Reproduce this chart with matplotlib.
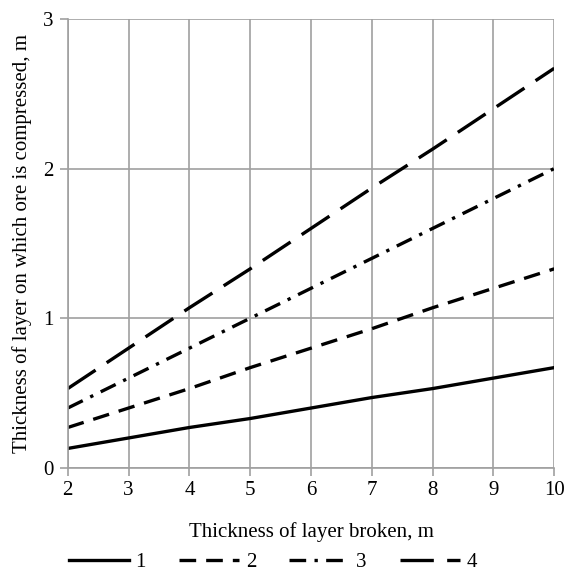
import matplotlib.pyplot as plt

plt.rcParams['font.family'] = ['Liberation Serif', 'DejaVu Serif']

# thickness of layer broken, m
x = [2, 3, 4, 5, 6, 7, 8, 9, 10]
# thickness of layer on which ore is compressed, m
line1 = [0.13, 0.20, 0.27, 0.33, 0.40, 0.47, 0.53, 0.60, 0.67]
line2 = [0.27, 0.40, 0.53, 0.67, 0.80, 0.93, 1.07, 1.20, 1.33]
line3 = [0.40, 0.60, 0.80, 1.00, 1.20, 1.40, 1.60, 1.80, 2.00]
line4 = [0.53, 0.80, 1.07, 1.33, 1.60, 1.87, 2.13, 2.40, 2.67]
labels = ['1', '2', '3', '4']

fig = plt.figure(figsize=(5.65, 5.72), dpi=100)
ax = fig.add_axes([0.120, 0.182, 0.861, 0.785])

lw = 2.4
ax.plot(x, line1, color='black', lw=lw, linestyle='-', label=labels[0])
ax.plot(x, line2, color='black', lw=lw, linestyle=(0, (5, 3)), label=labels[1])
ax.plot(x, line3, color='black', lw=lw, linestyle=(0, (5, 2.5, 1, 2.5)), label=labels[2])
ax.plot(x, line4, color='black', lw=lw, linestyle=(0, (10, 4)), label=labels[3])

ax.set_xlim(2, 10)
ax.set_ylim(0, 3)
ax.set_xticks(range(2, 11))
ax.set_yticks([0, 1, 2, 3])
ax.grid(True, color='#a0a0a0', lw=1.2)
ax.set_axisbelow(True)
for s in ['top', 'right']:
    ax.spines[s].set_visible(False)
for s in ['left', 'bottom']:
    ax.spines[s].set_color('#a0a0a0')
    ax.spines[s].set_linewidth(1.2)
ax.tick_params(axis='both', colors='#a0a0a0', labelcolor='black', labelsize=15, length=6, width=1.2)
ax.tick_params(axis='y', pad=4)

ax.set_xlabel('Thickness of layer broken, m', fontsize=15, labelpad=16)
ax.set_ylabel('Thickness of layer on which ore is compressed, m', fontsize=15, labelpad=8)

fig.legend(loc='center', bbox_to_anchor=(0.483, 10 / 572), ncol=4, frameon=False,
           fontsize=15, handlelength=2.9, columnspacing=1.6, handletextpad=0.3)

fig.savefig('out.png', dpi=100)
